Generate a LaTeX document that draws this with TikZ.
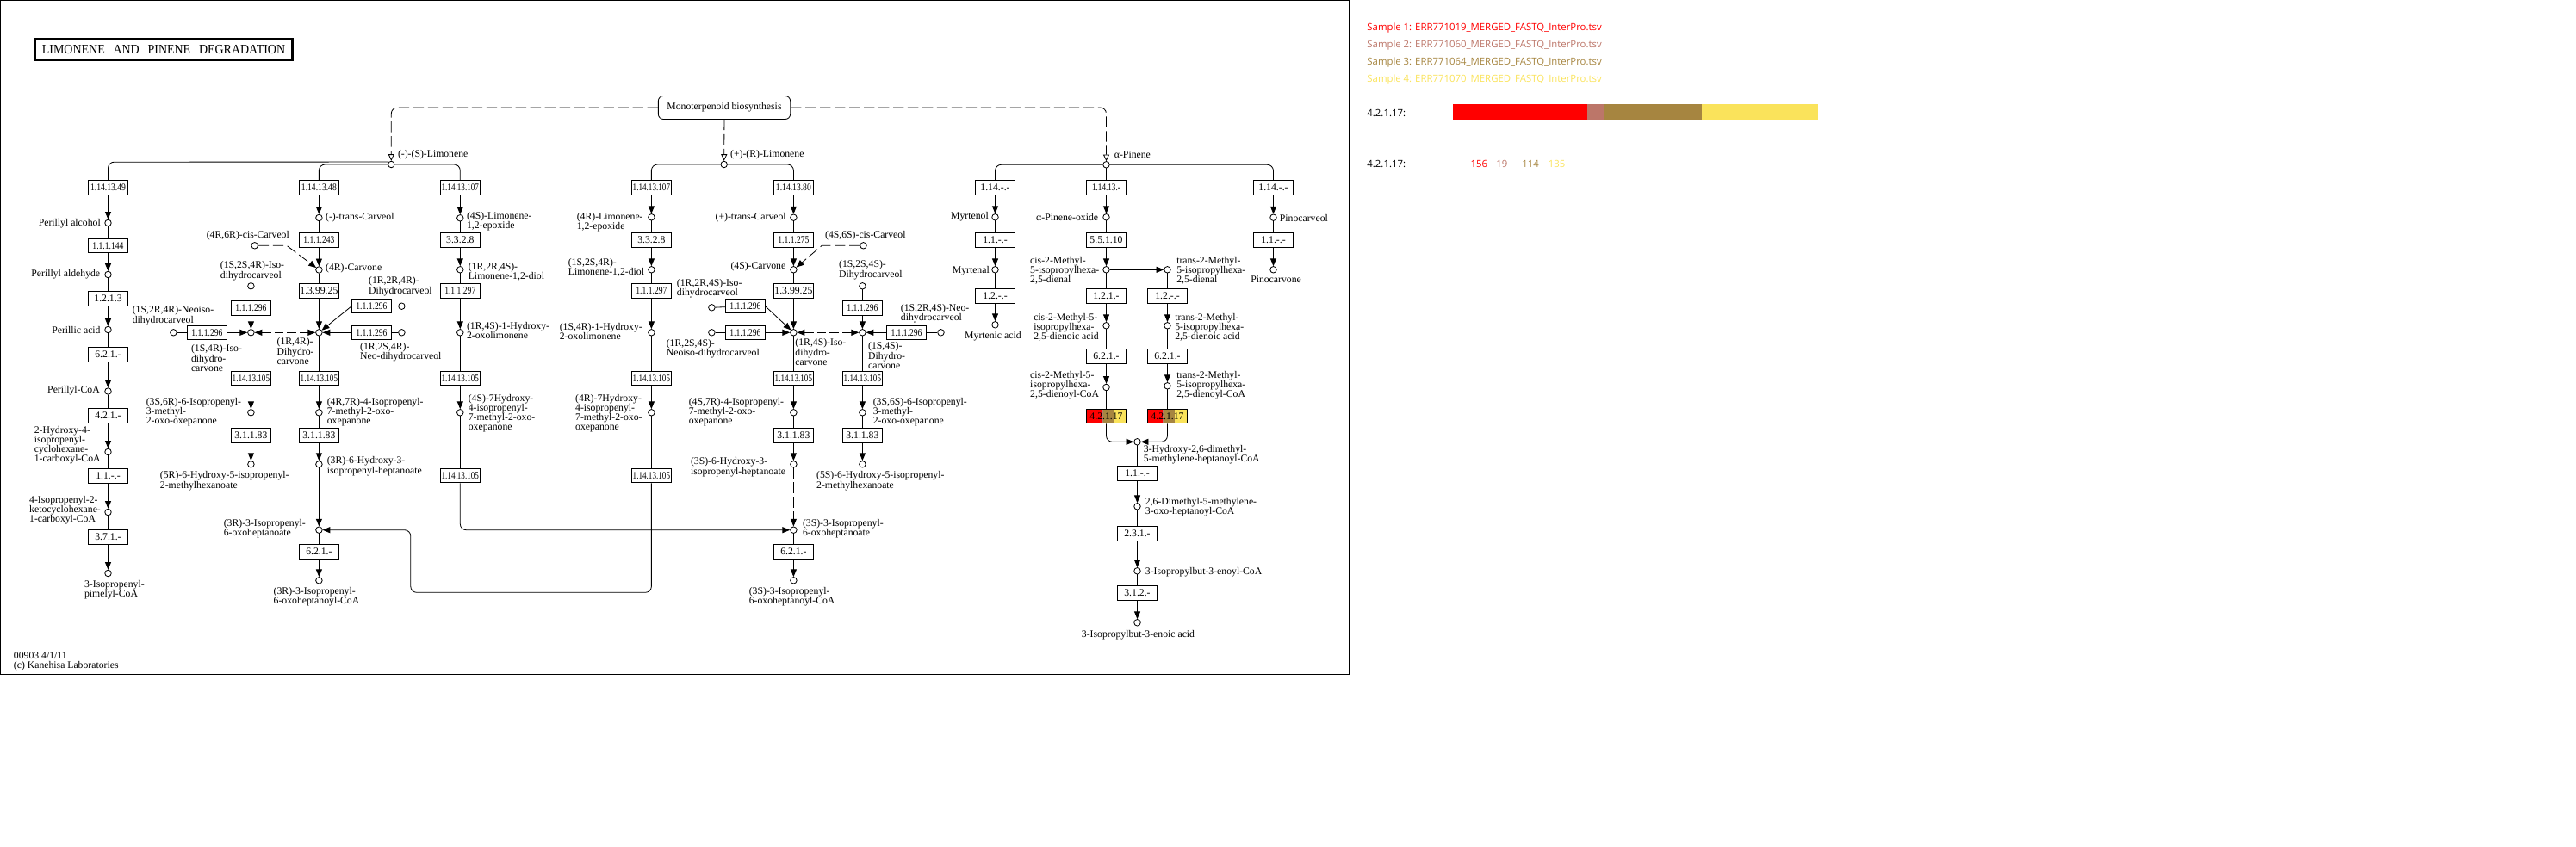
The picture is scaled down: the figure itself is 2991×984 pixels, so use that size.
\documentclass[tikz,border=0pt]{standalone}
\usepackage{fontspec}
\setmainfont{Liberation Serif}
\newfontfamily\ecnarrowfont[FakeStretch=0.82]{Liberation Serif}
\newfontfamily\ectightfont[FakeStretch=0.78]{Liberation Serif}
\newfontfamily\keggtitlefont[FakeStretch=0.917,WordSpace=2.8]{Liberation Serif}
\newfontfamily\legendfont{Open Sans}
\usetikzlibrary{arrows.meta,positioning}
\definecolor{sampleone}{RGB}{255,0,0}
\definecolor{sampletwo}{RGB}{188,118,105}
\definecolor{samplethree}{RGB}{166,133,64}
\definecolor{samplefour}{RGB}{250,227,91}

\begin{document}
\begin{tikzpicture}[x=0.3mm,y=-0.3mm]
\tikzset{
  compound/.style={circle,draw=black,fill=white,line width=0.7pt,minimum size=2.25mm,inner sep=0pt},
  enzyme/.style={rectangle,draw=black,fill=white,line width=0.7pt,minimum width=13.65mm,minimum height=4.9mm,inner sep=0pt,font=\fontsize{10}{10}\selectfont},
  enzymenarrow/.style={enzyme,font=\ecnarrowfont\fontsize{10}{10}\selectfont},
  enzymetight/.style={enzyme,font=\ectightfont\fontsize{10}{10}\selectfont},
  enzymehit/.style={enzyme,path picture={
    \fill[sampleone] (path picture bounding box.north west) rectangle +(16.9,17);
    \fill[sampletwo] ([xshift=5.07mm]path picture bounding box.north west) rectangle +(2.1,17);
    \fill[samplethree] ([xshift=5.7mm]path picture bounding box.north west) rectangle +(12.4,17);
    \fill[samplefour] ([xshift=9.42mm]path picture bounding box.north west) rectangle +(14.6,17);}},
  compoundlabel/.style={inner sep=0pt,align=left,font=\fontsize{10}{9.4}\selectfont},
  legendlabel/.style={inner sep=0pt,anchor=west,font=\legendfont\fontsize{9.7}{10}\selectfont},
  graphedge/.style={draw=black,line width=0.7pt,line join=round},
  plainedge/.style={graphedge},
  directed/.style={graphedge,-{Triangle[length=7.5pt,width=6pt]}},
  dashedline/.style={graphedge,dash pattern=on 10.5pt off 4pt},
  dashedopen/.style={dashedline,-{Triangle[open,length=6.5pt,width=6pt]}},
  dashedboth/.style={graphedge,dash pattern=on 9pt off 3.5pt,{Triangle[length=7.5pt,width=6pt]}-{Triangle[length=7.5pt,width=6pt]}},
  dasheddirected/.style={dashedline,-{Triangle[length=7.5pt,width=6pt]}}
}
\useasboundingbox (0,0) rectangle (2991,984);
\draw[line width=0.7pt] (0.5,0.5) rectangle (1566.7,783);
\node[draw=black,line width=1.9pt,minimum width=89.7mm,minimum height=7.5mm,inner sep=0pt,font=\keggtitlefont\fontsize{13}{13}\selectfont] (n_title) at (190,57.5) {LIMONENE AND PINENE DEGRADATION};
\node[draw=black,fill=white,line width=0.7pt,rounded corners=5pt,minimum width=46mm,minimum height=8.1mm,inner sep=0pt,font=\fontsize{10}{10}\selectfont] (n_mono) at (841,125) {Monoterpenoid biosynthesis};
\node[compoundlabel,anchor=west] (n_stamp) at (15.7,768.5) {00903 4/1/11\\(c) Kanehisa Laboratories};

\node[compound] (c_sl) at (454.3,191) {};
\node[compound] (c_rl) at (840.7,191) {};
\node[compound] (c_ap) at (1284.5,191.3) {};
\node[compoundlabel,anchor=west] (t_sl) at (461.8,179.3) {(-)-(S)-Limonene};
\node[compoundlabel,anchor=west] (t_rl) at (847.9,179.3) {(+)-(R)-Limonene};
\node[compoundlabel,anchor=west] (t_ap) at (1293.7,180) {α-Pinene};

\node[enzymenarrow] (e_a0) at (125.5,218) {1.14.13.49};
\node[enzymenarrow] (e_a1) at (125.5,285.7) {1.1.1.144};
\node[enzyme] (e_a2) at (125.5,347) {1.2.1.3};
\node[enzyme] (e_a3) at (125.5,412) {6.2.1.-};
\node[enzyme] (e_a4) at (125.5,483) {4.2.1.-};
\node[enzyme] (e_a5) at (125.5,553) {1.1.-.-};
\node[enzyme] (e_a6) at (125.5,624) {3.7.1.-};
\node[compound] (c_a1) at (125.5,259) {};
\node[compound] (c_a2) at (125.5,319) {};
\node[compound] (c_a3) at (125.5,383) {};
\node[compound] (c_a4) at (125.5,454.5) {};
\node[compound] (c_a5) at (125.5,525) {};
\node[compound] (c_a6) at (125.5,595) {};
\node[compound] (c_a7) at (125.5,666) {};
\node[compoundlabel,anchor=east] (t_a1) at (117,259.5) {Perillyl alcohol};
\node[compoundlabel,anchor=east] (t_a2) at (116.4,319) {Perillyl aldehyde};
\node[compoundlabel,anchor=east] (t_a3) at (116.8,383.7) {Perillic acid};
\node[compoundlabel,anchor=east] (t_a4) at (116,454) {Perillyl-CoA};
\node[compoundlabel,anchor=west] (t_a5) at (39.6,517) {2-Hydroxy-4-\\isopropenyl-\\cyclohexane-\\1-carboxyl-CoA};
\node[compoundlabel,anchor=west] (t_a6) at (34,593) {4-Isopropenyl-2-\\ketocyclohexane-\\1-carboxyl-CoA};
\node[compoundlabel,anchor=west] (t_a7) at (97.9,685) {3-Isopropenyl-\\pimelyl-CoA};

\node[enzymenarrow] (e_b0) at (370.4,218) {1.14.13.48};
\node[enzymenarrow] (e_b1) at (370.4,279) {1.1.1.243};
\node[enzyme] (e_b2) at (370.4,338) {1.3.99.25};
\node[enzymetight] (e_b3) at (370.4,439.7) {1.14.13.105};
\node[enzyme] (e_b4) at (370.4,506) {3.1.1.83};
\node[enzyme] (e_b5) at (370.4,641) {6.2.1.-};
\node[enzymenarrow] (e_b6) at (431.4,355.7) {1.1.1.296};
\node[enzymenarrow] (e_b7) at (431.4,386.3) {1.1.1.296};
\node[compound] (c_b1) at (370.4,253) {};
\node[compound] (c_b2) at (370.4,313.5) {};
\node[compound] (c_b3) at (370.4,386.3) {};
\node[compound] (c_b4) at (370.4,479.3) {};
\node[compound] (c_b5) at (370.4,539.3) {};
\node[compound] (c_b6) at (370.4,615.7) {};
\node[compound] (c_b7) at (370.4,674.3) {};
\node[compound] (c_b8) at (295.7,285.3) {};
\node[compound] (c_b9) at (466.4,355.7) {};
\node[compound] (c_b10) at (466.4,386.3) {};
\node[compoundlabel,anchor=west] (t_b1) at (377.9,253) {(-)-trans-Carveol};
\node[compoundlabel,anchor=west] (t_b2) at (377.9,312) {(4R)-Carvone};
\node[compoundlabel,anchor=west] (t_b3) at (321.4,408) {(1R,4R)-\\Dihydro-\\carvone};
\node[compoundlabel,anchor=west] (t_b4) at (379.6,479) {(4R,7R)-4-Isopropenyl-\\7-methyl-2-oxo-\\oxepanone};
\node[compoundlabel,anchor=west] (t_b5) at (379.6,541.7) {(3R)-6-Hydroxy-3-\\isopropenyl-heptanoate};
\node[compoundlabel,anchor=west] (t_b6) at (259.6,613.7) {(3R)-3-Isopropenyl-\\6-oxoheptanoate};
\node[compoundlabel,anchor=west] (t_b7) at (317.5,693.3) {(3R)-3-Isopropenyl-\\6-oxoheptanoyl-CoA};
\node[compoundlabel,anchor=west] (t_b8) at (239.6,274) {(4R,6R)-cis-Carveol};
\node[compoundlabel,anchor=west] (t_b9) at (427.9,332.7) {(1R,2R,4R)-\\Dihydrocarveol};
\node[compoundlabel,anchor=west] (t_b10) at (417.9,409) {(1R,2S,4R)-\\Neo-dihydrocarveol};

\node[enzymenarrow] (e_c0) at (291.4,358) {1.1.1.296};
\node[enzymenarrow] (e_c1) at (240.4,386.3) {1.1.1.296};
\node[enzymetight] (e_c2) at (291.4,439.7) {1.14.13.105};
\node[enzyme] (e_c3) at (291.4,506) {3.1.1.83};
\node[compound] (c_c0) at (291.4,332.3) {};
\node[compound] (c_c1) at (201.4,386.3) {};
\node[compound] (c_c2) at (291.4,386.3) {};
\node[compound] (c_c3) at (291.4,479.3) {};
\node[compound] (c_c4) at (291.4,539.3) {};
\node[compoundlabel,anchor=west] (t_c0) at (255.7,314.7) {(1S,2S,4R)-Iso-\\dihydrocarveol};
\node[compoundlabel,anchor=west] (t_c1) at (153.6,366.7) {(1S,2R,4R)-Neoiso-\\dihydrocarveol};
\node[compoundlabel,anchor=west] (t_c2) at (221.8,416) {(1S,4R)-Iso-\\dihydro-\\carvone};
\node[compoundlabel,anchor=west] (t_c3) at (169.6,478.7) {(3S,6R)-6-Isopropenyl-\\3-methyl-\\2-oxo-oxepanone};
\node[compoundlabel,anchor=west] (t_c4) at (185.7,558.7) {(5R)-6-Hydroxy-5-isopropenyl-\\2-methylhexanoate};

\node[enzymetight] (e_d0) at (534.3,218) {1.14.13.107};
\node[enzyme] (e_d1) at (534.3,279) {3.3.2.8};
\node[enzymenarrow] (e_d2) at (534.3,338) {1.1.1.297};
\node[enzymetight] (e_d3) at (534.3,439.7) {1.14.13.105};
\node[enzymetight] (e_d4) at (534.3,552.7) {1.14.13.105};
\node[compound] (c_d1) at (534.3,253.3) {};
\node[compound] (c_d2) at (534.3,313.3) {};
\node[compound] (c_d3) at (534.3,386.3) {};
\node[compound] (c_d4) at (534.3,479.3) {};
\node[compoundlabel,anchor=west] (t_d1) at (541.8,257) {(4S)-Limonene-\\1,2-epoxide};
\node[compoundlabel,anchor=west] (t_d2) at (543.6,316.3) {(1R,2R,4S)-\\Limonene-1,2-diol};
\node[compoundlabel,anchor=west] (t_d3) at (541.8,383.7) {(1R,4S)-1-Hydroxy-\\2-oxolimonene};
\node[compoundlabel,anchor=west] (t_d4) at (543.6,479.7) {(4S)-7Hydroxy-\\4-isopropenyl-\\7-methyl-2-oxo-\\oxepanone};

\node[enzymetight] (e_e0) at (756.4,218) {1.14.13.107};
\node[enzyme] (e_e1) at (756.4,279) {3.3.2.8};
\node[enzymenarrow] (e_e2) at (756.4,338) {1.1.1.297};
\node[enzymetight] (e_e3) at (756.4,439.7) {1.14.13.105};
\node[enzymetight] (e_e4) at (756.4,552.7) {1.14.13.105};
\node[compound] (c_e1) at (756.4,252.3) {};
\node[compound] (c_e2) at (756.4,313.3) {};
\node[compound] (c_e3) at (756.4,386.3) {};
\node[compound] (c_e4) at (756.4,479.3) {};
\node[compoundlabel,anchor=west] (t_e1) at (669.6,258) {(4R)-Limonene-\\1,2-epoxide};
\node[compoundlabel,anchor=west] (t_e2) at (659.6,311.3) {(1S,2S,4R)-\\Limonene-1,2-diol};
\node[compoundlabel,anchor=west] (t_e3) at (649.6,384.5) {(1S,4R)-1-Hydroxy-\\2-oxolimonene};
\node[compoundlabel,anchor=west] (t_e4) at (667.9,479.7) {(4R)-7Hydroxy-\\4-isopropenyl-\\7-methyl-2-oxo-\\oxepanone};

\node[enzymenarrow] (e_f0) at (921.4,218) {1.14.13.80};
\node[enzymenarrow] (e_f1) at (921.4,279) {1.1.1.275};
\node[enzyme] (e_f2) at (921.4,338) {1.3.99.25};
\node[enzymetight] (e_f3) at (921.4,439.7) {1.14.13.105};
\node[enzyme] (e_f4) at (921.4,506) {3.1.1.83};
\node[enzyme] (e_f5) at (921.4,641) {6.2.1.-};
\node[enzymenarrow] (e_f6) at (865.4,355.7) {1.1.1.296};
\node[enzymenarrow] (e_f7) at (865.4,386.3) {1.1.1.296};
\node[compound] (c_f1) at (921.4,252.7) {};
\node[compound] (c_f2) at (921.4,313.3) {};
\node[compound] (c_f3) at (921.4,386.3) {};
\node[compound] (c_f4) at (921.4,479.3) {};
\node[compound] (c_f5) at (921.4,539.3) {};
\node[compound] (c_f6) at (921.4,615.7) {};
\node[compound] (c_f7) at (921.4,674.3) {};
\node[compound] (c_f8) at (1002.5,285.3) {};
\node[compound] (c_f9) at (826.4,357.3) {};
\node[compound] (c_f10) at (826.4,386.3) {};
\node[compoundlabel,anchor=east] (t_f1) at (912.9,253) {(+)-trans-Carveol};
\node[compoundlabel,anchor=east] (t_f2) at (912.5,310) {(4S)-Carvone};
\node[compoundlabel,anchor=west] (t_f3) at (923.2,409) {(1R,4S)-Iso-\\dihydro-\\carvone};
\node[compoundlabel,anchor=west] (t_f4) at (799.6,478.7) {(4S,7R)-4-Isopropenyl-\\7-methyl-2-oxo-\\oxepanone};
\node[compoundlabel,anchor=west] (t_f5) at (801.8,542.7) {(3S)-6-Hydroxy-3-\\isopropenyl-heptanoate};
\node[compoundlabel,anchor=west] (t_f6) at (931.8,613.7) {(3S)-3-Isopropenyl-\\6-oxoheptanoate};
\node[compoundlabel,anchor=west] (t_f7) at (869.6,693.3) {(3S)-3-Isopropenyl-\\6-oxoheptanoyl-CoA};
\node[compoundlabel,anchor=west] (t_f8) at (957.9,274) {(4S,6S)-cis-Carveol};
\node[compoundlabel,anchor=west] (t_f9) at (785.7,335.3) {(1R,2R,4S)-Iso-\\dihydrocarveol};
\node[compoundlabel,anchor=west] (t_f10) at (773.6,405) {(1R,2S,4S)-\\Neoiso-dihydrocarveol};

\node[enzymenarrow] (e_g0) at (1001.4,358) {1.1.1.296};
\node[enzymenarrow] (e_g1) at (1052.5,386.3) {1.1.1.296};
\node[enzymetight] (e_g2) at (1001.4,439.7) {1.14.13.105};
\node[enzyme] (e_g3) at (1001.4,506) {3.1.1.83};
\node[compound] (c_g0) at (1001.4,332.3) {};
\node[compound] (c_g1) at (1092.5,386.3) {};
\node[compound] (c_g2) at (1001.4,386.3) {};
\node[compound] (c_g3) at (1001.4,479.3) {};
\node[compound] (c_g4) at (1001.4,539.3) {};
\node[compoundlabel,anchor=west] (t_g0) at (973.9,313.7) {(1S,2S,4S)-\\Dihydrocarveol};
\node[compoundlabel,anchor=west] (t_g1) at (1045.7,364.3) {(1S,2R,4S)-Neo-\\dihydrocarveol};
\node[compoundlabel,anchor=west] (t_g2) at (1007.9,413) {(1S,4S)-\\Dihydro-\\carvone};
\node[compoundlabel,anchor=west] (t_g3) at (1013.6,478.7) {(3S,6S)-6-Isopropenyl-\\3-methyl-\\2-oxo-oxepanone};
\node[compoundlabel,anchor=west] (t_g4) at (947.9,558.7) {(5S)-6-Hydroxy-5-isopropenyl-\\2-methylhexanoate};

\node[enzyme] (e_h0) at (1155.5,218) {1.14.-.-};
\node[enzyme] (e_h1) at (1155.5,279) {1.1.-.-};
\node[enzyme] (e_h2) at (1155.5,344) {1.2.-.-};
\node[compound] (c_h1) at (1155.5,252.3) {};
\node[compound] (c_h2) at (1155.5,313.3) {};
\node[compound] (c_h3) at (1155.5,377.3) {};
\node[compoundlabel,anchor=east] (t_h1) at (1148,252) {Myrtenol};
\node[compoundlabel,anchor=east] (t_h2) at (1149,315) {Myrtenal};
\node[compoundlabel,anchor=west] (t_h3) at (1120,391) {Myrtenic acid};

\node[enzymetight] (e_i0) at (1284.5,218) {1.14.13.-};
\node[enzyme] (e_i1) at (1284.5,279) {5.5.1.10};
\node[enzyme] (e_i2) at (1284.5,344) {1.2.1.-};
\node[enzyme] (e_i3) at (1284.5,414) {6.2.1.-};
\node[enzymehit] (e_i4) at (1284.5,483.7) {4.2.1.17};
\node[compound] (c_i1) at (1284.5,252.3) {};
\node[compound] (c_i2) at (1284.5,313.3) {};
\node[compound] (c_i3) at (1284.5,378.3) {};
\node[compound] (c_i4) at (1284.5,450) {};
\node[compoundlabel,anchor=east] (t_i1) at (1275.3,252) {α-Pinene-oxide};
\node[compoundlabel,anchor=west] (t_i2) at (1196,314) {cis-2-Methyl-\\5-isopropylhexa-\\2,5-dienal};
\node[compoundlabel,anchor=west] (t_i3) at (1200,380) {cis-2-Methyl-5-\\isopropylhexa-\\2,5-dienoic acid};
\node[compoundlabel,anchor=west] (t_i4) at (1196,448) {cis-2-Methyl-5-\\isopropylhexa-\\2,5-dienoyl-CoA};

\node[enzyme] (e_j2) at (1355.5,344) {1.2.-.-};
\node[enzyme] (e_j3) at (1355.5,414) {6.2.1.-};
\node[enzymehit] (e_j4) at (1355.5,483.7) {4.2.1.17};
\node[compound] (c_j1) at (1355.5,313.3) {};
\node[compound] (c_j2) at (1355.5,378.3) {};
\node[compound] (c_j3) at (1355.5,448.3) {};
\node[compoundlabel,anchor=west] (t_j1) at (1366,314) {trans-2-Methyl-\\5-isopropylhexa-\\2,5-dienal};
\node[compoundlabel,anchor=west] (t_j2) at (1364,380) {trans-2-Methyl-\\5-isopropylhexa-\\2,5-dienoic acid};
\node[compoundlabel,anchor=west] (t_j3) at (1366,448) {trans-2-Methyl-\\5-isopropylhexa-\\2,5-dienoyl-CoA};

\node[enzyme] (e_k0) at (1320.5,550) {1.1.-.-};
\node[enzyme] (e_k1) at (1320.5,620) {2.3.1.-};
\node[enzyme] (e_k2) at (1320.5,689) {3.1.2.-};
\node[compound] (c_k0) at (1320.5,513.3) {};
\node[compound] (c_k1) at (1320.5,588.3) {};
\node[compound] (c_k2) at (1320.5,663.3) {};
\node[compound] (c_k3) at (1320.5,723.3) {};
\node[compoundlabel,anchor=west] (t_k0) at (1327.7,528.3) {3-Hydroxy-2,6-dimethyl-\\5-methylene-heptanoyl-CoA};
\node[compoundlabel,anchor=west] (t_k1) at (1329.7,589) {2,6-Dimethyl-5-methylene-\\3-oxo-heptanoyl-CoA};
\node[compoundlabel,anchor=west] (t_k2) at (1329.7,665) {3-Isopropylbut-3-enoyl-CoA};
\node[compoundlabel,anchor=west] (t_k3) at (1255.7,737.7) {3-Isopropylbut-3-enoic acid};

\node[enzyme] (e_l0) at (1478.5,218) {1.14.-.-};
\node[enzyme] (e_l1) at (1478.5,279) {1.1.-.-};
\node[compound] (c_l1) at (1478.5,252.7) {};
\node[compound] (c_l2) at (1478.5,313.3) {};
\node[compoundlabel,anchor=west] (t_l1) at (1485.7,253) {Pinocarveol};
\node[compoundlabel,anchor=west] (t_l2) at (1452,325) {Pinocarvone};

\draw[dashedopen,rounded corners=6pt] (n_mono) -- (454.3,125) -- (c_sl);
\draw[dashedopen] (n_mono) -- (c_rl);
\draw[dashedopen,rounded corners=6pt] (n_mono) -- (1284.5,125) -- (c_ap);
\draw[plainedge,rounded corners=6pt] (c_sl.135) -- (125.5,188.2) -- (e_a0);
\draw[plainedge,rounded corners=6pt] (c_sl) -- (370.4,191) -- (e_b0);
\draw[plainedge,rounded corners=6pt] (c_sl) -- (534.3,191) -- (e_d0);
\draw[plainedge,rounded corners=6pt] (c_rl) -- (756.4,191) -- (e_e0);
\draw[plainedge,rounded corners=6pt] (c_rl) -- (921.4,191) -- (e_f0);
\draw[plainedge,rounded corners=6pt] (c_ap) -- (1155.5,191.3) -- (e_h0);
\draw[plainedge] (c_ap) -- (e_i0);
\draw[plainedge,rounded corners=6pt] (c_ap) -- (1478.5,191.3) -- (e_l0);

\draw[directed] (e_a0) -- (c_a1);
\draw[plainedge] (c_a1) -- (e_a1);
\draw[directed] (e_a1) -- (c_a2);
\draw[plainedge] (c_a2) -- (e_a2);
\draw[directed] (e_a2) -- (c_a3);
\draw[plainedge] (c_a3) -- (e_a3);
\draw[directed] (e_a3) -- (c_a4);
\draw[plainedge] (c_a4) -- (e_a4);
\draw[directed] (e_a4) -- (c_a5);
\draw[plainedge] (c_a5) -- (e_a5);
\draw[directed] (e_a5) -- (c_a6);
\draw[plainedge] (c_a6) -- (e_a6);
\draw[directed] (e_a6) -- (c_a7);

\draw[directed] (e_b0) -- (c_b1);
\draw[plainedge] (c_b1) -- (e_b1);
\draw[directed] (e_b1) -- (c_b2);
\draw[plainedge] (c_b2) -- (e_b2);
\draw[directed] (e_b2) -- (c_b3);
\draw[plainedge] (c_b3) -- (e_b3);
\draw[directed] (e_b3) -- (c_b4);
\draw[plainedge] (c_b4) -- (e_b4);
\draw[directed] (e_b4) -- (c_b5);
\draw[directed] (c_b5) -- (c_b6);
\draw[plainedge] (c_b6) -- (e_b5);
\draw[directed] (e_b5) -- (c_b7);
\draw[dasheddirected] (c_b8) -- (332.9,285.3) -- (c_b2);
\draw[plainedge] (c_b9) -- (e_b6);
\draw[directed] (e_b6.west) -- (c_b3);
\draw[plainedge] (c_b10) -- (e_b7);
\draw[directed] (e_b7) -- (c_b3);
\draw[dashedboth] (c_c2) -- (c_b3);

\draw[plainedge] (c_c0) -- (e_c0);
\draw[directed] (e_c0) -- (c_c2);
\draw[plainedge] (c_c1) -- (e_c1);
\draw[directed] (e_c1) -- (c_c2);
\draw[plainedge] (c_c2) -- (e_c2);
\draw[directed] (e_c2) -- (c_c3);
\draw[plainedge] (c_c3) -- (e_c3);
\draw[directed] (e_c3) -- (c_c4);

\draw[directed] (e_d0) -- (c_d1);
\draw[plainedge] (c_d1) -- (e_d1);
\draw[directed] (e_d1) -- (c_d2);
\draw[plainedge] (c_d2) -- (e_d2);
\draw[directed] (e_d2) -- (c_d3);
\draw[plainedge] (c_d3) -- (e_d3);
\draw[directed] (e_d3) -- (c_d4);
\draw[plainedge] (c_d4) -- (e_d4);
\draw[directed,rounded corners=6pt] (e_d4) -- (534.3,615.7) -- (c_f6);

\draw[directed] (e_e0) -- (c_e1);
\draw[plainedge] (c_e1) -- (e_e1);
\draw[directed] (e_e1) -- (c_e2);
\draw[plainedge] (c_e2) -- (e_e2);
\draw[directed] (e_e2) -- (c_e3);
\draw[plainedge] (c_e3) -- (e_e3);
\draw[directed] (e_e3) -- (c_e4);
\draw[plainedge] (c_e4) -- (e_e4);
\draw[directed,rounded corners=6pt] (e_e4) -- (756.4,688.3) -- (476.8,688.3) -- (476.8,615.7) -- (c_b6);

\draw[directed] (e_f0) -- (c_f1);
\draw[plainedge] (c_f1) -- (e_f1);
\draw[directed] (e_f1) -- (c_f2);
\draw[plainedge] (c_f2) -- (e_f2);
\draw[directed] (e_f2) -- (c_f3);
\draw[plainedge] (c_f3) -- (e_f3);
\draw[directed] (e_f3) -- (c_f4);
\draw[plainedge] (c_f4) -- (e_f4);
\draw[directed] (e_f4) -- (c_f5);
\draw[dasheddirected] (c_f5) -- (c_f6);
\draw[plainedge] (c_f6) -- (e_f5);
\draw[directed] (e_f5) -- (c_f7);
\draw[dasheddirected] (c_f8) -- (954.3,285.3) -- (c_f2);
\draw[plainedge] (c_f9) -- (e_f6);
\draw[directed] (e_f6.east) -- (c_f3);
\draw[plainedge] (c_f10) -- (e_f7);
\draw[directed] (e_f7) -- (c_f3);
\draw[dashedboth] (c_f3) -- (c_g2);

\draw[plainedge] (c_g0) -- (e_g0);
\draw[directed] (e_g0) -- (c_g2);
\draw[plainedge] (c_g1) -- (e_g1);
\draw[directed] (e_g1) -- (c_g2);
\draw[plainedge] (c_g2) -- (e_g2);
\draw[directed] (e_g2) -- (c_g3);
\draw[plainedge] (c_g3) -- (e_g3);
\draw[directed] (e_g3) -- (c_g4);

\draw[directed] (e_h0) -- (c_h1);
\draw[plainedge] (c_h1) -- (e_h1);
\draw[directed] (e_h1) -- (c_h2);
\draw[plainedge] (c_h2) -- (e_h2);
\draw[directed] (e_h2) -- (c_h3);

\draw[directed] (e_i0) -- (c_i1);
\draw[plainedge] (c_i1) -- (e_i1);
\draw[directed] (e_i1) -- (c_i2);
\draw[plainedge] (c_i2) -- (e_i2);
\draw[directed] (e_i2) -- (c_i3);
\draw[plainedge] (c_i3) -- (e_i3);
\draw[directed] (e_i3) -- (c_i4);
\draw[plainedge] (c_i4) -- (e_i4);
\draw[directed] (c_i2) -- (c_j1);
\draw[plainedge] (c_j1) -- (e_j2);
\draw[directed] (e_j2) -- (c_j2);
\draw[plainedge] (c_j2) -- (e_j3);
\draw[directed] (e_j3) -- (c_j3);
\draw[plainedge] (c_j3) -- (e_j4);
\draw[directed,rounded corners=6pt] (e_i4) -- (1284.5,513.3) -- (c_k0);
\draw[directed,rounded corners=6pt] (e_j4) -- (1355.5,513.3) -- (c_k0);

\draw[plainedge] (c_k0) -- (e_k0);
\draw[directed] (e_k0) -- (c_k1);
\draw[plainedge] (c_k1) -- (e_k1);
\draw[directed] (e_k1) -- (c_k2);
\draw[plainedge] (c_k2) -- (e_k2);
\draw[directed] (e_k2) -- (c_k3);

\draw[directed] (e_l0) -- (c_l1);
\draw[plainedge] (c_l1) -- (e_l1);
\draw[directed] (e_l1) -- (c_l2);

\node[legendlabel,text=sampleone] (l_s1) at (1587.2,32.5) {Sample 1: ERR771019\_MERGED\_FASTQ\_InterPro.tsv};
\node[legendlabel,text=sampletwo] (l_s2) at (1587.2,52.5) {Sample 2: ERR771060\_MERGED\_FASTQ\_InterPro.tsv};
\node[legendlabel,text=samplethree] (l_s3) at (1587.2,72.5) {Sample 3: ERR771064\_MERGED\_FASTQ\_InterPro.tsv};
\node[legendlabel,text=samplefour] (l_s4) at (1587.2,92.5) {Sample 4: ERR771070\_MERGED\_FASTQ\_InterPro.tsv};
\node[legendlabel] (l_bar) at (1587.2,131.7) {4.2.1.17:};
\fill[sampleone] (1687.1,121) rectangle (1843.1,139);
\fill[sampletwo] (1843.1,121) rectangle (1862.1,139);
\fill[samplethree] (1862.1,121) rectangle (1976.1,139);
\fill[samplefour] (1976.1,121) rectangle (2111.1,139);
\node[legendlabel] (l_num) at (1587.2,190.7) {4.2.1.17:};
\node[legendlabel,text=sampleone] (l_n1) at (1707.4,190.7) {156};
\node[legendlabel,text=sampletwo] (l_n2) at (1737.2,190.7) {19};
\node[legendlabel,text=samplethree] (l_n3) at (1767,190.7) {114};
\node[legendlabel,text=samplefour] (l_n4) at (1797.7,190.7) {135};
\end{tikzpicture}
\end{document}
